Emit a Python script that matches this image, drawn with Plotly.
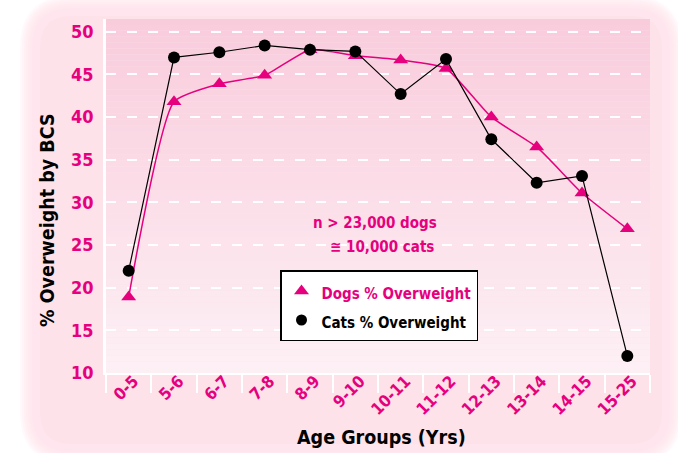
import plotly.graph_objects as go

age_groups = ["0-5", "5-6", "6-7", "7-8", "8-9", "9-10", "10-11",
              "11-12", "12-13", "13-14", "14-15", "15-25"]
dogs_overweight = [18.9, 41.8, 43.9, 44.9, 47.9, 47.2, 46.7, 45.7, 40.0, 36.5, 31.1, 26.9]
cats_overweight = [22.0, 47.0, 47.6, 48.4, 47.9, 47.7, 42.7, 46.8, 37.4, 32.3, 33.1, 12.0]
y_ticks = [10, 15, 20, 25, 30, 35, 40, 45, 50]

MAGENTA = "#e6007e"
FONT = "Liberation Sans Narrow, DejaVu Sans Condensed, Arial Narrow, sans-serif"

W, H = 678, 453
L, R, T, B = 106, 650, 19, 373  # plot area in page pixels


def px(x):
    return (x - L) / (R - L)


def py(y):
    return (B - y) / (B - T)


def rounded_rect(x0, y0, x1, y1, r):
    # page pixel box -> svg path in paper coords
    return (
        f"M {px(x0 + r)},{py(y0)} L {px(x1 - r)},{py(y0)} "
        f"Q {px(x1)},{py(y0)} {px(x1)},{py(y0 + r)} "
        f"L {px(x1)},{py(y1 - r)} Q {px(x1)},{py(y1)} {px(x1 - r)},{py(y1)} "
        f"L {px(x0 + r)},{py(y1)} Q {px(x0)},{py(y1)} {px(x0)},{py(y1 - r)} "
        f"L {px(x0)},{py(y0 + r)} Q {px(x0)},{py(y0)} {px(x0 + r)},{py(y0)} Z"
    )


shapes = []
# soft-edged pink panel
for i in range(8):
    g = 18 - i * 2
    shapes.append(dict(
        type="path", xref="paper", yref="paper", layer="below",
        path=rounded_rect(38 - g, 14 - g, 664 + g, 446 + g, 34 + g),
        fillcolor="#fde2ea", opacity=0.2, line=dict(width=0),
    ))
shapes.append(dict(
    type="path", xref="paper", yref="paper", layer="below",
    path=rounded_rect(40, 16, 662, 444, 32),
    fillcolor="#fde2ea", line=dict(width=0),
))
# vertical gradient inside the plot area
n_bands = 60
top_c, bot_c = (249, 204, 220), (253, 240, 245)
for i in range(n_bands):
    t = i / (n_bands - 1)
    c = tuple(round(top_c[k] + (bot_c[k] - top_c[k]) * t) for k in range(3))
    shapes.append(dict(
        type="rect", xref="paper", yref="paper", layer="below",
        x0=0, x1=1, y0=1 - (i + 1) / n_bands, y1=1 - i / n_bands,
        fillcolor="rgb(%d,%d,%d)" % c, line=dict(width=0),
    ))

fig = go.Figure()

fig.add_trace(go.Scatter(
    x=age_groups, y=dogs_overweight, mode="lines+markers",
    line=dict(color=MAGENTA, width=1.5, shape="spline", smoothing=0.5),
    marker=dict(symbol="triangle-up", size=13, color=MAGENTA),
    showlegend=False,
))
fig.add_trace(go.Scatter(
    x=age_groups, y=cats_overweight, mode="lines+markers",
    line=dict(color="black", width=1.2),
    marker=dict(symbol="circle", size=12, color="black"),
    showlegend=False,
))
# legend-only entries (marker without line)
fig.add_trace(go.Scatter(
    x=[None], y=[None], mode="markers",
    marker=dict(symbol="triangle-up", size=13, color=MAGENTA),
    name=f"<span style='color:{MAGENTA};font-size:15px'>Dogs % Overweight</span>",
))
fig.add_trace(go.Scatter(
    x=[None], y=[None], mode="markers",
    marker=dict(symbol="circle", size=11, color="black"),
    name="<span style='font-size:15px'>Cats % Overweight</span>",
))


def note(text, x, y, size, color=MAGENTA, angle=0):
    return dict(text=text, x=px(x), y=py(y), xref="paper", yref="paper",
                xanchor="center", yanchor="middle", textangle=angle, showarrow=False,
                font=dict(family=FONT, size=size, color=color, weight="bold"))


fig.update_layout(
    width=W, height=H,
    margin=dict(l=L, r=W - R, t=T, b=H - B),
    paper_bgcolor="white",
    plot_bgcolor="rgba(0,0,0,0)",
    font=dict(family=FONT, size=15, color="black"),
    shapes=shapes,
    showlegend=True,
    legend=dict(
        x=px(280), y=py(270), xanchor="left", yanchor="top",
        bgcolor="white", bordercolor="black", borderwidth=1.5,
        font=dict(family=FONT, size=20, color="black", weight="bold"),
        itemwidth=30, tracegroupgap=0,
    ),
    annotations=[
        note("n > 23,000 dogs", 375, 223, 15),
        note("≅ 10,000 cats", 382, 247, 15),
        note("% Overweight by BCS", 47, 220, 19.5, color="black", angle=-90),
        note("Age Groups (Yrs)", 381, 437, 19.5, color="black"),
    ],
)

fig.update_xaxes(
    type="category", range=[-0.5, len(age_groups) - 0.5],
    showgrid=False, zeroline=False,
    showline=True, linecolor="white", linewidth=2,
    ticks="outside", tickson="boundaries", ticklen=18, tickcolor="white", tickwidth=1.5,
    tickangle=-45, ticklabelstandoff=-10, ticklabelshift=5,
    tickfont=dict(family=FONT, size=16.5, color=MAGENTA, weight="bold"),
)
fig.update_yaxes(
    range=[10, 51.5], tickvals=y_ticks,
    showgrid=True, gridcolor="white", gridwidth=1.5, griddash="10px,11px",
    zeroline=False,
    showline=True, linecolor="white", linewidth=2.5,
    ticks="inside", ticklen=5, tickcolor="white", tickwidth=1.5,
    ticklabelstandoff=6,
    tickfont=dict(family=FONT, size=18, color=MAGENTA, weight="bold"),
)

fig.write_html("out.html", config={"displayModeBar": False},
               post_script="document.body.style.margin='0px';")
